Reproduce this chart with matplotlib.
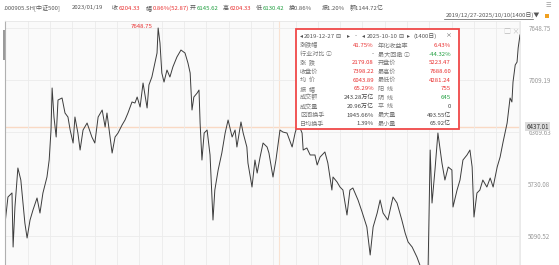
import matplotlib
matplotlib.use("Agg")
import matplotlib.pyplot as plt
import matplotlib.patches as patches
import numpy as np

plt.rcParams['font.family'] = ['Noto Sans CJK SC', 'DejaVu Sans']

# trading-day index (0 = 2019-12-27, 1399 = 2025-10-10) and close
days = [0, 8, 19, 22, 27, 35, 43, 49, 54, 60, 68, 76, 87, 95, 103, 114, 120, 125, 128, 133,
        139, 144, 155, 163, 171, 177, 185, 190, 198, 204, 212, 223, 236, 244, 253, 264, 272, 277,
        283, 291, 299, 307, 318, 326, 334, 345, 353, 359, 367, 375, 386, 391, 399, 407, 413, 416,
        421, 426, 432, 440, 448, 456, 467, 478, 489, 497, 503, 508, 513, 522, 527, 530, 535, 541,
        549, 557, 565, 570, 579, 589, 598, 606, 617, 625, 630, 641, 647, 657, 660, 671, 679, 685,
        693, 701, 712, 717, 728, 736, 747, 755, 766, 780, 788, 796, 807, 810, 820, 829, 842, 848,
        856, 869, 877, 888, 891, 902, 910, 918, 929, 937, 945, 959, 970, 983, 992, 1000, 1011,
        1019, 1027, 1040, 1054, 1065, 1078, 1087, 1095, 1106, 1119, 1127, 1135, 1144, 1149, 1155,
        1160, 1168, 1176, 1187, 1195, 1204, 1214, 1217, 1228, 1236, 1244, 1255, 1263, 1269, 1274,
        1282, 1290, 1298, 1309, 1318, 1326, 1337, 1345, 1353, 1364, 1372, 1377, 1380, 1386, 1391,
        1394, 1399]
closes = [5240, 5570, 5620, 4955, 5447, 5927, 5779, 5496, 5250, 5066, 5287, 5410, 5558, 5373,
          5619, 5816, 6025, 6394, 6911, 6554, 6308, 6763, 6788, 6603, 6554, 6394, 6234, 6554, 6357,
          6148, 6394, 6480, 6308, 6234, 6554, 6640, 6431, 6603, 6394, 6111, 6308, 6357, 6456, 6517,
          6603, 6739, 6726, 6800, 6677, 6972, 6665, 6948, 7046, 7218, 7341, 7648.75, 7464, 7095,
          6984, 7132, 7046, 7169, 7292, 7378, 7341, 7218, 7095, 6640, 6800, 6849, 6886, 6480, 6025,
          6357, 6394, 6087, 5287, 5656, 5902, 6111, 6357, 6517, 6308, 6394, 6185, 6493, 6357, 6185,
          5988, 5693, 6025, 5865, 6062, 6234, 6185, 6111, 5816, 6025, 6394, 6369, 6357, 6185, 6357,
          6480, 6357, 6148, 6173, 6087, 6087, 5964, 6062, 6124, 5988, 5656, 5816, 5755, 5693, 5656,
          5349, 5656, 5681, 5533, 5386, 5201, 4857, 5201, 5373, 5533, 5373, 5287, 5570, 5496, 5287,
          5127, 5017, 4955, 4832, 4734, 4426, 4303, 4611, 6148, 5496, 5902, 6357, 5988, 5779, 5939,
          5902, 5447, 5656, 5779, 6025, 6087, 6148, 5939, 5324, 5619, 5656, 5779, 5693, 5804, 5693,
          5939, 6062, 6246, 6480, 6788, 6739, 6984, 7194, 7230, 7403, 7563]

yticks = [7648.75, 7009.19, 6369.63, 5730.08, 5090.52]
cursor_value = 6437.01
cursor_day = 745
peak_label = "7648.75"

header = [(".000905.SH[中证500]", "#555555"), ("2023/01/19", "#555555"),
          ("收", "#555555"), ("6204.33", "#e93030"), ("幅", "#555555"), ("0.86%(52.87)", "#e93030"),
          ("开", "#555555"), ("6145.62", "#1e9e3e"), ("高", "#555555"), ("6204.33", "#e93030"),
          ("低", "#555555"), ("6130.42", "#1e9e3e"), ("换0.86%", "#555555"), ("振1.20%", "#555555"),
          ("额1144.72亿", "#555555")]
header_x = [4, 72, 112, 119, 146, 153, 190, 197, 223, 230, 256, 263, 289, 322, 350]

left_labels = ["涨跌幅", "行业对比 ⓘ", "涨  跌", "收盘价", "均  价", "振  幅", "成交额", "成交量", "区间换手", "日均换手"]
left_values = ["41.75%", "-", "2179.08", "7398.22", "6043.89", "65.29%", "243.28万亿", "20.96万亿", "1945.66%", "1.39%"]
left_colors = ["r", "k", "r", "r", "r", "r", "k", "k", "k", "k"]
right_labels = ["年化收益率", "最大回撤 ⓘ", "开盘价", "最高价", "最低价", "阳  线", "阴  线", "平  线", "最大量", "最小量"]
right_values = ["6.43%", "-44.32%", "5223.47", "7688.60", "4281.24", "755", "645", "0", "493.55亿", "65.92亿"]
right_colors = ["r", "g", "r", "r", "r", "r", "g", "k", "k", "k"]

cmap = {"r": "#e93030", "g": "#1e9e3e", "k": "#444444"}

W, H = 559, 265
fig = plt.figure(figsize=(W / 100, H / 100), dpi=100)


def ftxt(x, y, s, **kw):
    kw.setdefault("va", "center")
    return fig.text(x / W, 1 - y / H, s, **kw)


ax = fig.add_axes([5 / W, 0, 515 / W, 244 / H])
ax.set_facecolor("#fafafa")
ax.set_xlim(0, 1399)
ax.set_ylim(4733.9, 7734.8)
ax.set_xticks(62 + 60.6 * np.arange(23))
ax.set_xticklabels([])
ax.set_yticks(yticks)
ax.set_yticklabels([f"{v:.2f}" for v in yticks])
ax.yaxis.tick_right()
ax.tick_params(length=0, labelsize=4.5, labelcolor="#9a9a9a", pad=6)
ax.grid(color="#ebebeb", lw=0.6)
for s in ["top", "right"]:
    ax.spines[s].set_color("#e6e6e6")
    ax.spines[s].set_linewidth(0.6)
ax.spines["left"].set_color("#b0b0b0")
ax.spines["left"].set_linewidth(0.8)
ax.spines["bottom"].set_visible(False)

ax.axhline(cursor_value, color="#f9d9c4", lw=1.0, zorder=1)
ax.axvline(cursor_day, color="#f9e2d2", lw=0.8, zorder=1)
ax.plot(days, closes, color="#3c3c3c", lw=0.7, zorder=2)

pk = int(np.argmax(closes))
ax.text(days[pk] - 16, closes[pk] - 10, peak_label, color="#e93030", fontsize=4.3,
        ha="right", va="bottom")

ax.text(1.012, cursor_value, f"{cursor_value:.2f}", transform=ax.get_yaxis_transform(),
        fontsize=4.5, color="#333333", va="center", ha="left",
        bbox=dict(boxstyle="square,pad=0.15", fc="#dcdcdc", ec="none"), clip_on=False)

# left scroll handle
fig.add_artist(patches.Rectangle((2.5 / W, 1 - 60 / H), 2 / W, 30 / H, transform=fig.transFigure,
                                 color="#9a9a9a", lw=0))

# header line
for (s, c), x in zip(header, header_x):
    ftxt(x, 8, s, color=c, fontsize=4.3)
ftxt(540, 15.5, "2019/12/27-2025/10/10(1400日)▼", color="#555555", fontsize=4.3, ha="right")
fig.add_artist(plt.Line2D([444 / W, 533 / W], [1 - 19 / H, 1 - 19 / H], transform=fig.transFigure,
                          color="#555555", lw=0.5))
fig.add_artist(patches.Rectangle((545 / W, 1 - 18 / H), 4 / W, 4 / H, transform=fig.transFigure,
                                 color="#f0a020", lw=0))
ftxt(548, 5, "☰", color="#999999", fontsize=4.5, ha="center")
ftxt(512, 32, "□ ×", color="#bbbbbb", fontsize=5, ha="center")

# statistics panel
fig.add_artist(patches.Rectangle((296 / W, 1 - 129 / H), 163 / W, 100 / H, transform=fig.transFigure,
                                 fc="white", ec="#f04848", lw=1.3, zorder=2))
date_row = [("◂", 300), ("2019-12-27", 304), ("⊟", 335), ("▸", 347), ("-", 355), ("◂", 362),
            ("2025-10-10", 367), ("⊟", 398), ("▸", 407), ("(1400日)", 414), ("×", 446)]
for s, x in date_row:
    ftxt(x, 36, s, color="#555555", fontsize=4.3, zorder=3)
for i in range(len(left_labels)):
    y = 45.5 + 8.7 * i
    ftxt(300, y, left_labels[i], color="#777777", fontsize=4.4, zorder=3)
    ftxt(374, y, left_values[i], color=cmap[left_colors[i]], fontsize=4.3, ha="right", zorder=3)
    ftxt(378, y, right_labels[i], color="#777777", fontsize=4.4, zorder=3)
    ftxt(451, y, right_values[i], color=cmap[right_colors[i]], fontsize=4.3, ha="right", zorder=3)

fig.savefig("out.png", dpi=100, facecolor="white")
